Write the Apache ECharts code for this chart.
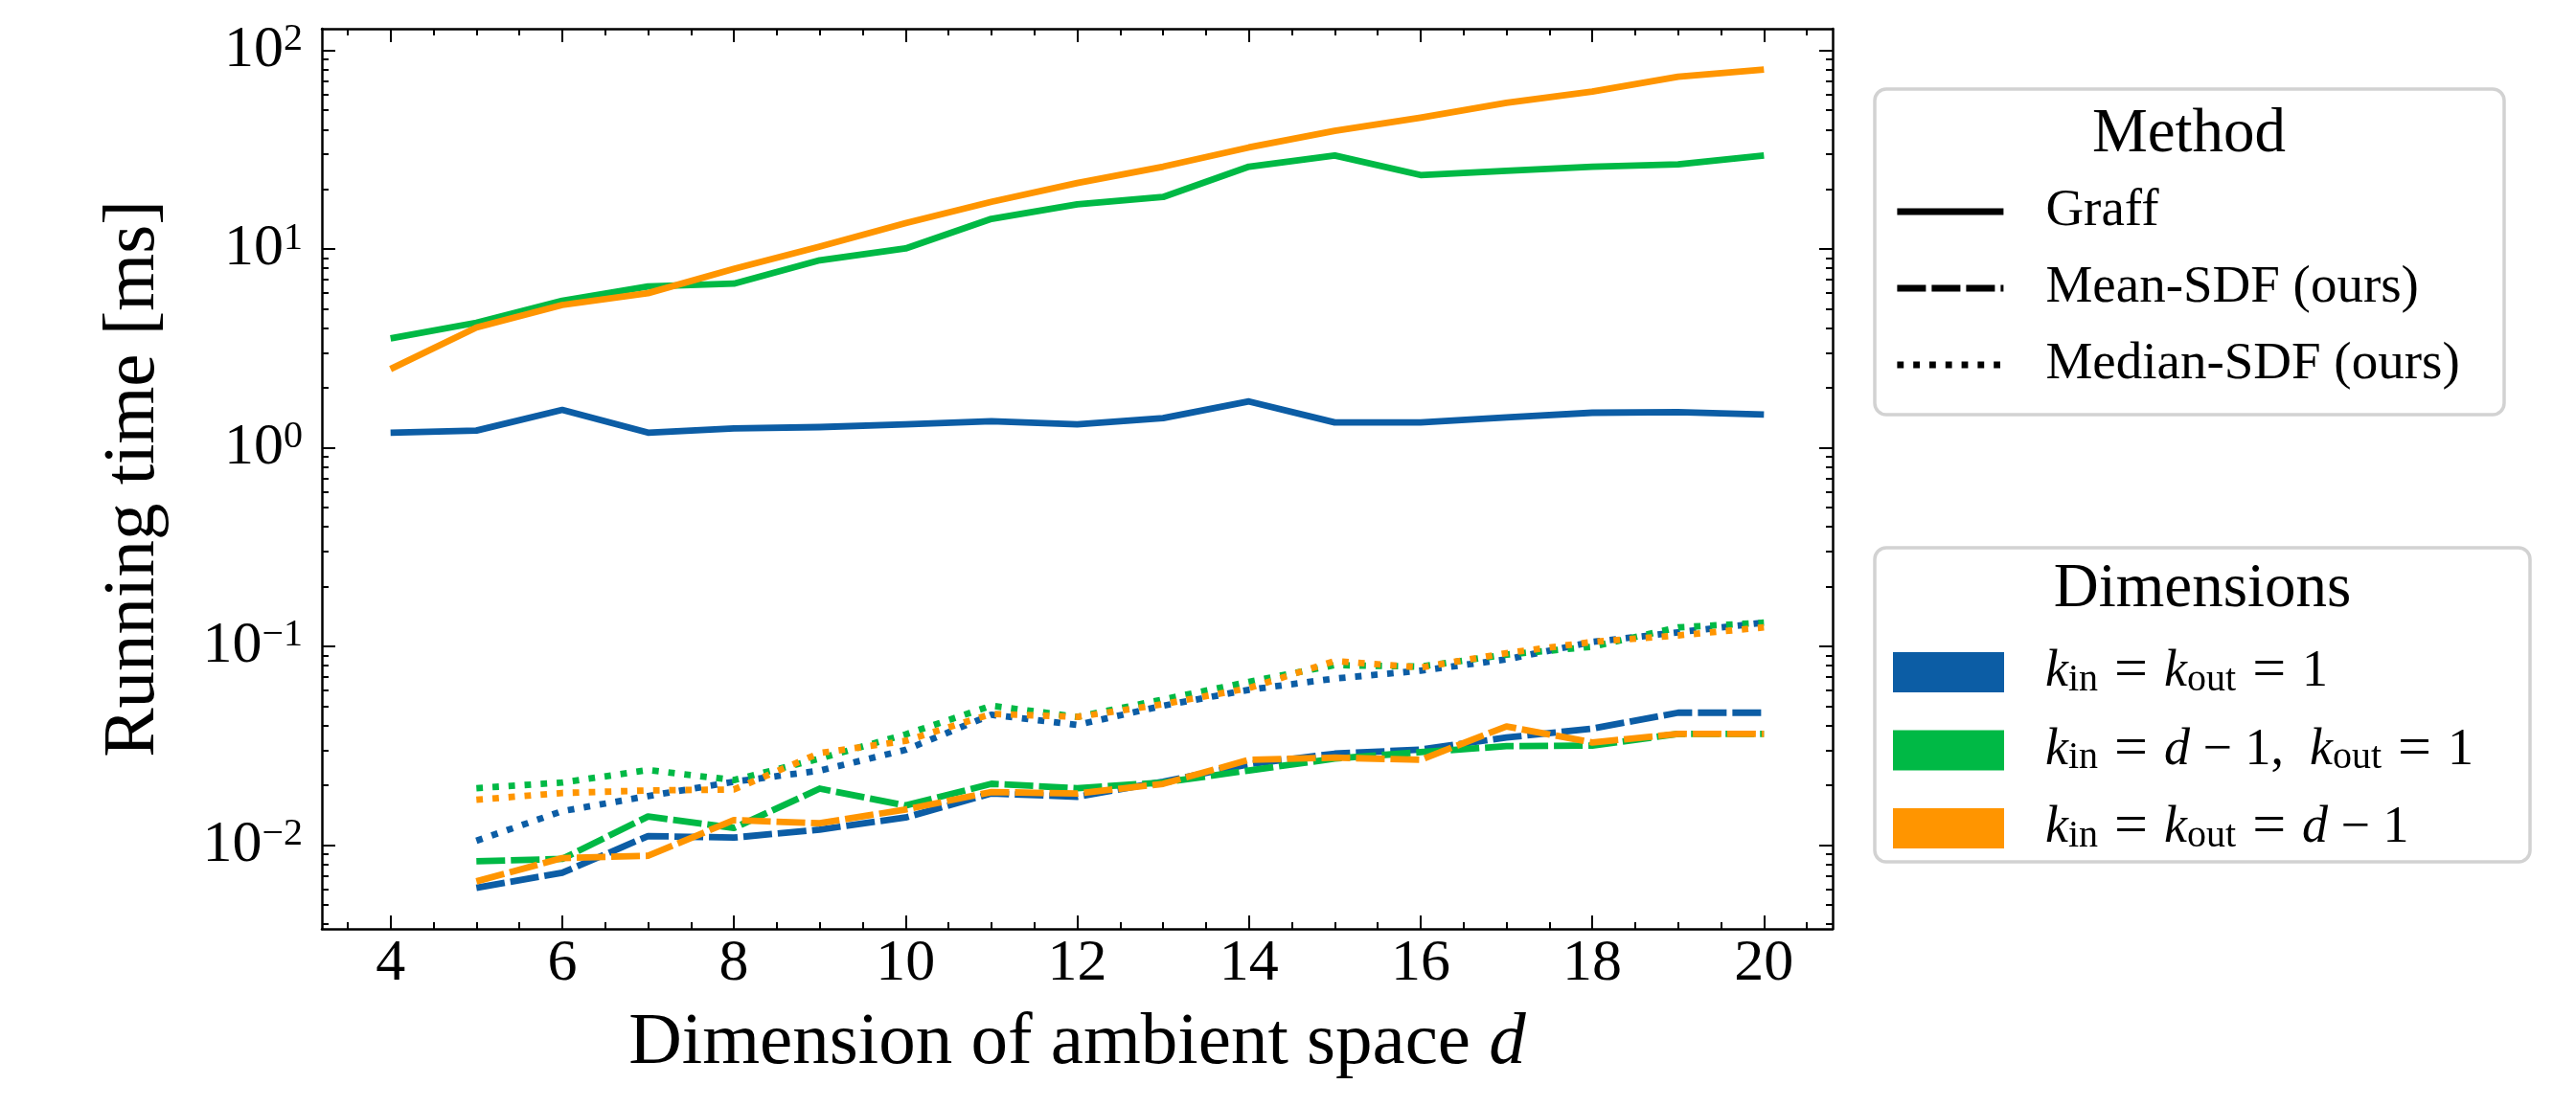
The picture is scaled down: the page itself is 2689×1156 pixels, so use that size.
<!DOCTYPE html>
<html><head><meta charset="utf-8">
<script src="https://cdn.jsdelivr.net/npm/echarts@6/dist/echarts.min.js"></script>
<style>html,body{margin:0;padding:0;background:#fff}#c{width:2689px;height:1156px}</style>
</head><body><div id="c"></div><script>
// ---- data ----
const D_GRAFF = [4,5,6,7,8,9,10,11,12,13,14,15,16,17,18,19,20];
const D_SDF = [5,6,7,8,9,10,11,12,13,14,15,16,17,18,19,20];

const GRAFF_BLUE   = [1.19,1.22,1.55,1.19,1.25,1.27,1.31,1.36,1.31,1.41,1.71,1.34,1.34,1.42,1.50,1.51,1.47];
const GRAFF_GREEN  = [3.55,4.26,5.49,6.49,6.70,8.78,10.07,14.2,16.8,18.3,26.0,29.6,23.6,24.8,26.0,26.7,29.6];
const GRAFF_ORANGE = [2.49,4.03,5.23,6.00,7.95,10.3,13.5,17.3,21.5,26.0,32.5,39.4,45.9,54.5,62.1,73.8,80.1];

const MEAN_BLUE   = [0.00608,0.00724,0.01108,0.01088,0.01194,0.01374,0.01815,0.01747,0.0208,0.0255,0.0288,0.0302,0.0347,0.0385,0.0463,0.0463];
const MEAN_GREEN  = [0.00827,0.0085,0.0139,0.01216,0.0192,0.0158,0.0203,0.0193,0.0206,0.0237,0.0272,0.0293,0.0314,0.0316,0.0362,0.0362];
const MEAN_ORANGE = [0.00655,0.00858,0.00881,0.01333,0.01285,0.01507,0.01846,0.01814,0.0203,0.0268,0.0275,0.0268,0.0395,0.0328,0.0362,0.0362];

const MEDIAN_BLUE   = [0.01048,0.01479,0.01761,0.0208,0.02366,0.0301,0.0452,0.0402,0.0502,0.0604,0.0688,0.0754,0.0859,0.1052,0.1176,0.1315];
const MEDIAN_GREEN  = [0.0193,0.0206,0.0238,0.0212,0.0272,0.0360,0.0502,0.0441,0.0540,0.0662,0.0804,0.0790,0.0908,0.0995,0.1245,0.1315];
const MEDIAN_ORANGE = [0.01687,0.01826,0.0188,0.0190,0.0290,0.0334,0.0457,0.0441,0.0511,0.0616,0.0843,0.0782,0.0924,0.1052,0.1134,0.1245];

const X_TICKS = [4,6,8,10,12,14,16,18,20];
const X_MINOR = [3.5,4.5,5,5.5,6.5,7,7.5,8.5,9,9.5,10.5,11,11.5,12.5,13,13.5,14.5,15,15.5,16.5,17,17.5,18.5,19,19.5,20.5];
const Y_TICKS = [0.01,0.1,1,10,100];
const Y_MINOR = [0.004,0.005,0.006,0.007,0.008,0.009,0.02,0.03,0.04,0.05,0.06,0.07,0.08,0.09,
                 0.2,0.3,0.4,0.5,0.6,0.7,0.8,0.9,2,3,4,5,6,7,8,9,20,30,40,50,60,70,80,90];

const METHODS = ['Graff','Mean-SDF (ours)','Median-SDF (ours)'];
const DIMS = ['kin=kout=1','kin=d-1,kout=1','kin=kout=d-1'];
const COLORS = ['#0C5DA5','#00B945','#FF9500'];

// ---- config ----
const X_MIN = 3.2, X_MAX = 20.8;
const Y_MIN = 0.003776, Y_MAX = 128.7;
const FONT = '"Liberation Serif", "DejaVu Serif", serif';
const LW = 6.8;
const DASH = [30, 6];
const DOT = [6.8, 10];

function pairs(xs, ys){ return xs.map((x,i)=>[x, ys[i]]); }

const chart = echarts.init(document.getElementById('c'), null, {renderer:'canvas'});

function xAxisDef(pos, ticks, len, showLine, showLabel, withName){
  const a = {
    type:'value', position:pos, min:X_MIN, max:X_MAX,
    axisLine:{show:showLine, onZero:false, lineStyle:{color:'#000', width:2.5}},
    axisTick:{show:true, inside:true, length:len, customValues:ticks, lineStyle:{color:'#000', width:2}},
    axisLabel:{show:showLabel, customValues:ticks, margin:6, color:'#000',
               fontFamily:FONT, fontSize:62, lineHeight:62},
    splitLine:{show:false}
  };
  if (withName){
    a.name = 'Dimension of ambient space {i|d}';
    a.nameLocation = 'middle';
    a.nameGap = 81;
    a.nameTextStyle = {color:'#000', fontFamily:FONT, fontSize:77, lineHeight:77,
      rich:{i:{fontFamily:FONT, fontSize:77, lineHeight:77, fontStyle:'italic', color:'#000'}}};
  }
  return a;
}
function yLabelFmt(v){
  const l = Math.log10(v); const e = Math.round(l);
  if (Math.abs(l - e) > 1e-6) return '';
  return '{b|10}{s|' + String(e).replace('-', '\u2212') + '}';
}
function yAxisDef(pos, ticks, len, showLine, showLabel, withName){
  const a = {
    type:'log', logBase:10, position:pos, min:Y_MIN, max:Y_MAX,
    axisLine:{show:showLine, onZero:false, lineStyle:{color:'#000', width:2.5}},
    axisTick:{show:true, inside:true, length:len, customValues:ticks, lineStyle:{color:'#000', width:2}},
    axisLabel:{show:showLabel, customValues:ticks, margin:20, color:'#000', formatter:yLabelFmt,
      rich:{
        b:{fontFamily:FONT, fontSize:62, lineHeight:62, color:'#000'},
        s:{fontFamily:FONT, fontSize:40, lineHeight:24, verticalAlign:'top', color:'#000'}
      }},
    splitLine:{show:false}, minorTick:{show:false}
  };
  if (withName){
    a.name = 'Running time [ms]';
    a.nameLocation = 'middle';
    a.nameGap = 158;
    a.nameRotate = 90;
    a.nameTextStyle = {color:'#000', fontFamily:FONT, fontSize:77, lineHeight:77};
  }
  return a;
}

const series = [];
const groups = [
  [GRAFF_BLUE, MEAN_BLUE, MEDIAN_BLUE],
  [GRAFF_GREEN, MEAN_GREEN, MEDIAN_GREEN],
  [GRAFF_ORANGE, MEAN_ORANGE, MEDIAN_ORANGE]
];
groups.forEach((g, ci) => {
  const styles = ['solid', DASH, DOT];
  g.forEach((vals, mi) => {
    series.push({
      type:'line', name:'s'+ci+'_'+mi, xAxisIndex:0, yAxisIndex:0,
      data: pairs(mi === 0 ? D_GRAFF : D_SDF, vals),
      symbol:'none', silent:true, color:COLORS[ci],
      lineStyle:{color:COLORS[ci], width:LW, type:styles[mi], cap:'butt', join:'round'},
      z: 2 + ci
    });
  });
});
// legend-only entries
const mStyles = ['solid', DASH, DOT];
METHODS.forEach((m, i) => series.push({
  type:'line', name:m, data:[], symbol:'none', color:'#000', xAxisIndex:0, yAxisIndex:0,
  lineStyle:{color:'#000', width:LW, type:mStyles[i], cap:'butt'}
}));
DIMS.forEach((m, i) => series.push({
  type:'line', name:m, data:[], symbol:'none', color:COLORS[i], xAxisIndex:0, yAxisIndex:0,
  itemStyle:{color:COLORS[i]}, lineStyle:{color:COLORS[i], width:LW}
}));

const DIM_FMT = {
  'kin=kout=1': '{sp| }{i|k}{s|in}{e|=}{i|k}{s|out}{e|=}{n|1}',
  'kin=d-1,kout=1': '{sp| }{i|k}{s|in}{e|=}{i|d}{n| \u2212 1,  }{i|k}{s|out}{e|=}{n|1}',
  'kin=kout=d-1': '{sp| }{i|k}{s|in}{e|=}{i|k}{s|out}{e|=}{i|d}{n| \u2212 1}'
};
const dimRich = {
  sp:{width:38, fontSize:52, lineHeight:56},
  i:{fontFamily:FONT, fontStyle:'italic', fontSize:54, lineHeight:56, color:'#000'},
  n:{fontFamily:FONT, fontSize:54, lineHeight:56, color:'#000'},
  e:{fontFamily:FONT, fontSize:62, lineHeight:56, color:'#000', padding:[0,17,0,17]},
  s:{fontFamily:FONT, fontSize:40, lineHeight:28, verticalAlign:'bottom', color:'#000'}
};

chart.setOption({
  backgroundColor:'#fff',
  animation:false,
  textStyle:{fontFamily:FONT},
  grid:{left:336, right:776, top:30, bottom:186, containLabel:false, outerBoundsMode:'none'},
  xAxis:[
    xAxisDef('bottom', X_TICKS, 14, true, true, true),
    xAxisDef('top', X_TICKS, 14, true, false, false),
    xAxisDef('bottom', X_MINOR, 7, false, false, false),
    xAxisDef('top', X_MINOR, 7, false, false, false)
  ],
  yAxis:[
    yAxisDef('left', Y_TICKS, 14, true, true, true),
    yAxisDef('right', Y_TICKS, 14, true, false, false),
    yAxisDef('left', Y_MINOR, 7, false, false, false),
    yAxisDef('right', Y_MINOR, 7, false, false, false)
  ],
  legend:[
    {
      data: METHODS, orient:'vertical', left:1977, top:193, padding:0,
      itemWidth:111, itemHeight:2, itemGap:24, selectedMode:false,
      formatter: n => '{sp| }' + n,
      textStyle:{color:'#000', fontFamily:FONT, fontSize:55, lineHeight:56,
                 rich:{sp:{width:39, fontSize:55, lineHeight:56}}},
      lineStyle:{width:LW}
    },
    {
      data: DIMS.map(n => ({name:n, icon:'rect'})), orient:'vertical', left:1976, top:671, padding:0,
      itemWidth:116, itemHeight:42, itemGap:19.5, selectedMode:false,
      formatter: n => DIM_FMT[n],
      textStyle:{color:'#000', fontFamily:FONT, fontSize:54, lineHeight:56, rich:dimRich}
    }
  ],
  graphic:[
    {type:'rect', z:0, shape:{x:1957, y:93, width:657, height:340, r:12},
     style:{fill:'#fff', stroke:'#d2d2d2', lineWidth:3.5}},
    {type:'rect', z:0, shape:{x:1957, y:572, width:684, height:328, r:12},
     style:{fill:'#fff', stroke:'#d2d2d2', lineWidth:3.5}},
    {type:'text', z:5, x:2285, y:141,
     style:{text:'Method', fill:'#000', fontFamily:FONT, fontSize:65, align:'center', verticalAlign:'middle'}},
    {type:'text', z:5, x:2299, y:616,
     style:{text:'Dimensions', fill:'#000', fontFamily:FONT, fontSize:65, align:'center', verticalAlign:'middle'}}
  ],
  series: series
});
</script></body></html>
